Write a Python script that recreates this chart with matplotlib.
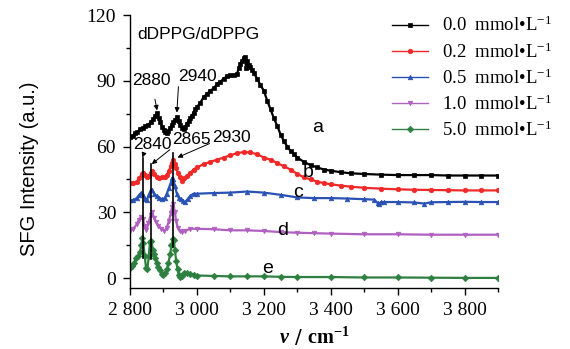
import matplotlib
matplotlib.use("Agg")
import matplotlib.pyplot as plt
from matplotlib.ticker import MultipleLocator, FixedLocator

plt.rcParams['mathtext.fontset'] = 'custom'
plt.rcParams['mathtext.rm'] = 'Liberation Serif'
plt.rcParams['mathtext.it'] = 'Liberation Serif:italic'
plt.rcParams['mathtext.bf'] = 'Liberation Serif:bold'
plt.rcParams['mathtext.bfit'] = 'Liberation Serif:italic:bold'

# ---- data ----
xa = [2800, 2808, 2815, 2822, 2830, 2838, 2846, 2854, 2862, 2870, 2876, 2881, 2886, 2891, 2896,
      2901, 2906, 2910, 2915, 2920, 2925, 2930, 2935, 2940, 2945, 2950, 2955, 2960, 2965, 2970,
      2975, 2980, 2985, 2990, 2995, 3000, 3010, 3020, 3030, 3040, 3050, 3060, 3070, 3080, 3090,
      3100, 3110, 3120, 3125, 3130, 3135, 3140, 3143, 3147, 3150, 3155, 3160, 3165, 3170, 3180,
      3190, 3200, 3210, 3220, 3230, 3240, 3250, 3260, 3270, 3280, 3290, 3300, 3320, 3340, 3360,
      3380, 3400, 3430, 3460, 3500, 3550, 3600, 3650, 3700, 3750, 3800, 3850, 3900]
ya = [64.5, 65, 66, 66.5, 68, 68.5, 69.5, 70, 71, 72.5, 74, 75.5, 73, 71, 69,
      67.5, 66.5, 66, 67, 68.5, 70, 71, 72, 73.5, 71.5, 70, 68.5, 68, 69, 70.5,
      71.5, 73, 74, 75.5, 77, 78, 80, 82.5, 84, 85.5, 86.5, 88.5, 89.5, 91, 92,
      92.5, 92.5, 93, 96, 97.5, 99, 100.5, 101, 96, 99, 97, 96.5, 95, 93.5, 91,
      88, 85.5, 81, 77, 73, 69.5, 65.5, 62.5, 60, 58, 56.5, 55, 53, 51.5, 50.5,
      49.5, 49, 48.3, 47.8, 47.5, 47.2, 47, 47, 47, 46.8, 46.8, 46.8, 46.8]

xb = [2800, 2810, 2820, 2828, 2835, 2840, 2845, 2850, 2856, 2862, 2866, 2872, 2880, 2888, 2896,
      2904, 2910, 2916, 2922, 2926, 2930, 2934, 2938, 2943, 2948, 2955, 2962, 2970, 2980, 2990,
      3000, 3020, 3040, 3060, 3080, 3100, 3120, 3140, 3160, 3180, 3200, 3220, 3240, 3260, 3280,
      3300, 3320, 3340, 3360, 3380, 3400, 3430, 3460, 3500, 3550, 3600, 3650, 3700, 3750, 3800,
      3850, 3900]
yb = [43.5, 43.5, 44, 45.5, 47.5, 48, 47, 46, 46.5, 48, 49, 47.5, 46, 45.5, 46,
      46, 47, 49, 51, 52.5, 54, 52, 50, 48, 46, 44.5, 45.5, 46.5, 48, 49.5,
      50.5, 52, 53, 54, 55, 56, 57, 57.5, 57.3, 56.5, 55, 54, 52.5, 51, 49.5,
      47.5, 46, 45, 44, 43.3, 42.8, 42.2, 41.7, 41.2, 40.8, 40.5, 40.3, 40.2, 40.1, 40,
      40, 40]

xc = [2800, 2810, 2820, 2828, 2834, 2840, 2846, 2850, 2856, 2862, 2866, 2872, 2880, 2888, 2896,
      2904, 2910, 2916, 2922, 2926, 2930, 2934, 2940, 2946, 2952, 2958, 2964, 2972, 2980, 2990,
      3000, 3050, 3100, 3150, 3200, 3250, 3300, 3350, 3400, 3450, 3500, 3530, 3540, 3545, 3550,
      3560, 3600, 3650, 3680, 3700, 3750, 3800, 3850, 3900]
yc = [35.5, 35.5, 36.5, 38, 39, 38, 36, 35.5, 38, 40, 40, 38.5, 37.5, 36.5, 36,
      36.5, 38.5, 41, 43.5, 45.5, 45, 42, 38.5, 36.5, 36, 35, 34.5, 36, 37.5, 38.5,
      38.5, 38.8, 39, 39.5, 39, 38, 36.8, 36.5, 36.5, 36.3, 36, 35.8, 34.3, 33.8, 34.7,
      34.7, 34.7, 34.5, 34, 34.6, 34.7, 34.8, 34.7, 34.7]

xd = [2800, 2810, 2820, 2826, 2833, 2838, 2843, 2849, 2855, 2862, 2866, 2872, 2878, 2885, 2893,
      2903, 2910, 2916, 2922, 2926, 2930, 2934, 2938, 2943, 2948, 2955, 2965, 2980, 3000, 3050,
      3100, 3150, 3200, 3250, 3300, 3350, 3400, 3500, 3600, 3700, 3800, 3900]
yd = [21.5, 22.5, 24.5, 26.5, 28, 27, 24, 22, 25, 29, 30, 27.5, 25.5, 24, 22.5,
      21.5, 23, 26, 29.5, 32.5, 34, 30, 26, 23, 21.5, 21, 21.5, 22.5, 22.5, 22.3,
      21.8, 21.8, 21.5, 21, 20.7, 20.5, 20.3, 20, 20, 19.8, 19.8, 19.8]

xe = [2800, 2806, 2812, 2818, 2824, 2830, 2834, 2837, 2840, 2844, 2848, 2852, 2856, 2860, 2864,
      2868, 2872, 2876, 2880, 2885, 2890, 2895, 2900, 2905, 2910, 2915, 2920, 2924, 2928, 2931,
      2934, 2938, 2942, 2946, 2950, 2955, 2962, 2970, 2980, 2990, 3000, 3050, 3100, 3150, 3200,
      3250, 3300, 3400, 3500, 3600, 3700, 3800, 3900]
ye = [4.5, 5.5, 7, 9, 10, 12, 15, 18.5, 16, 10, 4.5, 4, 10, 16.5, 17,
      13, 11, 9, 7, 5, 3.5, 2, 1.5, 2.5, 4, 7, 11, 15, 18, 17.5,
      13, 8, 4, 1.5, 0.5, 1, 2.5, 2.5, 2, 1.5, 1.2, 1, 0.8, 0.8, 0.8,
      0.6, 0.5, 0.5, 0.3, 0.3, 0.2, 0.1, 0.1]

legend_labels = ["0.0  mmol•L$^{-1}$", "0.2  mmol•L$^{-1}$", "0.5  mmol•L$^{-1}$",
                 "1.0  mmol•L$^{-1}$", "5.0  mmol•L$^{-1}$"]
curve_letters = ["a", "b", "c", "d", "e"]
xticks = [2800, 3000, 3200, 3400, 3600, 3800]
xticklabels = ["2 800", "3 000", "3 200", "3 400", "3 600", "3 800"]
yticks = [0, 30, 60, 90, 120]

# ---- figure ----
W, H = 570, 349
fig = plt.figure(figsize=(W / 100, H / 100), dpi=100)
ax = fig.add_axes([130 / W, 1 - 288 / H, (498 - 130) / W, (288 - 15) / H])

series = [(xa, ya, 'black', 's'), (xb, yb, '#f02828', 'o'), (xc, yc, '#2a52b4', '^'),
          (xd, yd, '#b060c0', 'v'), (xe, ye, '#2e8040', 'D')]
for (x, y, c, m), lab in zip(series, legend_labels):
    ax.plot(x, y, color=c, marker=m, markersize=3.3, lw=1.6, label=lab,
            markeredgewidth=0.5)

ax.set_xlim(2800, 3900)
ax.set_ylim(-4.5, 120)
ax.xaxis.set_major_locator(FixedLocator(xticks))
ax.set_xticklabels(xticklabels)
ax.xaxis.set_minor_locator(MultipleLocator(100))
ax.yaxis.set_major_locator(FixedLocator(yticks))
ax.yaxis.set_minor_locator(MultipleLocator(15))
for s in ['top', 'right']:
    ax.spines[s].set_visible(False)
for s in ['left', 'bottom']:
    ax.spines[s].set_linewidth(1.0)
ax.tick_params(which='major', direction='out', length=5, width=1, pad=5)
ax.tick_params(which='minor', direction='out', length=3, width=1)
for lbl in ax.get_xticklabels() + ax.get_yticklabels():
    lbl.set_fontfamily('Liberation Serif')
    lbl.set_fontsize(14)

ax.set_xlabel(r"$\mathbfit{v}$ / $\mathbf{cm}^{\mathbf{-1}}$", fontsize=14.5, labelpad=4)
fig.text(30 / W, 1 - 169 / H, "SFG Intensity (a.u.)", rotation=90, ha='center', va='center',
         fontfamily='Liberation Sans', fontsize=14.5)

sans = dict(fontfamily='Liberation Sans', fontsize=12.5)
ax.text(2821, 111, "dDPPG/dDPPG", ha='left', va='center', **sans)

# annotations
ax.annotate("2880", xy=(2881, 76.5), xytext=(2864, 90), ha='center', va='center',
            arrowprops=dict(arrowstyle='-|>', color='black', lw=0.7, mutation_scale=7,
                            shrinkA=6, shrinkB=0), **sans)
ax.annotate("2940", xy=(2940, 75.5), xytext=(3003, 92), ha='center', va='center',
            arrowprops=dict(arrowstyle='-|>', color='black', lw=0.7, mutation_scale=7,
                            shrinkA=0, shrinkB=0, relpos=(0.0, 0.0)), **sans)
ax.annotate("2840", xy=(2837, 55), xytext=(2866, 61), ha='center', va='center',
            arrowprops=dict(arrowstyle='-|>', color='black', lw=0.7, mutation_scale=7,
                            shrinkA=0, shrinkB=0, relpos=(0.3, 0.0)), **sans)
ax.annotate("2865", xy=(2865, 52), xytext=(2985, 63), ha='center', va='center',
            arrowprops=dict(arrowstyle='-|>', color='black', lw=0.7, mutation_scale=7,
                            shrinkA=0, shrinkB=0, relpos=(0.0, 0.0)), **sans)
ax.annotate("2930", xy=(2942, 55), xytext=(3104, 64), ha='center', va='center',
            arrowprops=dict(arrowstyle='-|>', color='black', lw=0.7, mutation_scale=7,
                            shrinkA=0, shrinkB=0, relpos=(0.0, 0.2)), **sans)
for xv, top, bot in [(2838, 55, 9), (2864, 52, 8.5), (2930, 57, 14)]:
    ax.plot([xv, xv], [bot, top], color='black', lw=1.2)

# curve letters
letter_pos = [(3361, 68.6), (3331, 48), (3301, 39), (3257, 21.8), (3212, 4.5)]
for (lx, ly), t in zip(letter_pos, curve_letters):
    ax.text(lx, ly, t, ha='center', va='center', fontfamily='Liberation Sans', fontsize=14)

leg = fig.legend(loc='upper left', bbox_to_anchor=(392 / W, 1 - 16 / H), frameon=False,
                 prop={'family': 'Liberation Serif', 'size': 13.5}, handlelength=1.9,
                 handletextpad=0.75, labelspacing=0.36, borderpad=0, borderaxespad=0)
for h in leg.legend_handles:
    h.set_linewidth(1.0)

fig.savefig("out.png", dpi=100)
